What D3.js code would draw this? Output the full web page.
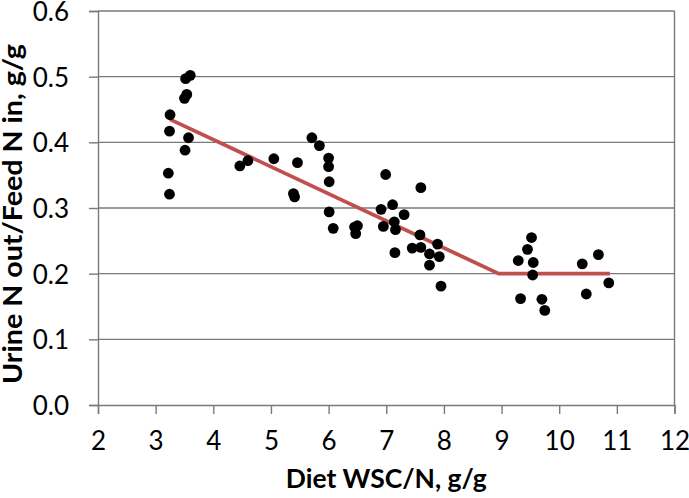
<!DOCTYPE html>
<html>
<head>
<meta charset="utf-8">
<script src="https://cdn.jsdelivr.net/npm/d3@7"></script>
<style>
  html, body { margin: 0; padding: 0; background: #fff; }
  svg { display: block; }
  text { font-family: Lato, "Open Sans", sans-serif; fill: #000; }
</style>
</head>
<body>
<svg id="chart" width="689" height="498"></svg>
<script>
// ---- data ----
const pointX = [3.52, 3.60, 3.50, 3.54, 3.25, 3.24, 3.57, 3.51, 4.46, 4.60, 3.22, 3.24,
  5.05, 5.46, 5.71, 5.84, 6.00, 6.00, 6.01, 5.39, 5.41, 6.01, 6.08, 6.45, 6.50, 6.47,
  6.99, 6.91, 7.11, 6.95, 7.14, 7.16, 7.31, 7.15, 7.60, 7.585, 7.45, 7.60, 7.89, 7.75,
  7.92, 7.75, 7.95,
  9.52, 9.45, 9.29, 9.55, 9.54, 9.33, 9.70, 9.75, 10.40, 10.68, 10.47, 10.86];
const pointY = [0.497, 0.502, 0.467, 0.473, 0.442, 0.417, 0.407, 0.388, 0.364, 0.372, 0.353, 0.321,
  0.375, 0.369, 0.407, 0.395, 0.376, 0.363, 0.340, 0.322, 0.317, 0.294, 0.269, 0.271, 0.273, 0.261,
  0.351, 0.298, 0.305, 0.272, 0.279, 0.267, 0.290, 0.232, 0.331, 0.259, 0.239, 0.240, 0.245, 0.230,
  0.226, 0.213, 0.181,
  0.255, 0.237, 0.220, 0.217, 0.198, 0.162, 0.161, 0.144, 0.215, 0.229, 0.169, 0.186];
const fitX = [3.25, 8.95, 10.88];
const fitY = [0.435, 0.200, 0.200];
const xTicks = [2, 3, 4, 5, 6, 7, 8, 9, 10, 11, 12];
const yTicks = [0, 0.1, 0.2, 0.3, 0.4, 0.5, 0.6];
const xTitle = "Diet WSC/N, g/g";
const yTitle = "Urine N out/Feed N in, g/g";

// ---- layout ----
const W = 689, H = 498;
const margin = { left: 98, right: 14.5, top: 11, bottom: 93 };
const svg = d3.select("#chart");
const x = d3.scaleLinear().domain([2, 12]).range([margin.left, W - margin.right]);
const y = d3.scaleLinear().domain([0, 0.6]).range([H - margin.bottom, margin.top]);
const axisColor = "#7a7a7a";

// gridlines
svg.append("g").selectAll("line").data(yTicks.filter(d => d > 0)).join("line")
  .attr("x1", x(2)).attr("x2", x(12))
  .attr("y1", d => y(d)).attr("y2", d => y(d))
  .attr("stroke", axisColor).attr("stroke-width", 1.4);
// right border
svg.append("line").attr("x1", x(12)).attr("x2", x(12)).attr("y1", y(0.6)).attr("y2", y(0))
  .attr("stroke", axisColor).attr("stroke-width", 1.4);

// axes
const xAxis = d3.axisBottom(x).tickValues(xTicks).tickSize(9).tickPadding(8).tickFormat(d3.format("d"));
const gx = svg.append("g").attr("transform", `translate(0,${y(0)})`).call(xAxis);
gx.select(".domain").attr("stroke", axisColor).attr("stroke-width", 1.4);
gx.selectAll(".tick line").attr("stroke", axisColor).attr("stroke-width", 1.4);
gx.selectAll(".tick text").attr("font-size", 26).attr("font-family", "Lato").attr("fill", "#000")
  .attr("dy", null).attr("y", 45);

const yAxis = d3.axisLeft(y).tickValues(yTicks).tickSize(9).tickPadding(20).tickFormat(d3.format(".1f"));
const gy = svg.append("g").attr("transform", `translate(${x(2)},0)`).call(yAxis);
gy.select(".domain").attr("stroke", axisColor).attr("stroke-width", 1.4);
gy.selectAll(".tick line").attr("stroke", axisColor).attr("stroke-width", 1.4);
gy.selectAll(".tick text").attr("font-size", 26).attr("font-family", "Lato").attr("fill", "#000")
  .attr("x", -29).attr("dy", "0.36em");

// fitted broken-line
const line = d3.line().x(d => x(d[0])).y(d => y(d[1]));
svg.append("path").datum(fitX.map((v, i) => [v, fitY[i]]))
  .attr("d", line).attr("fill", "none").attr("stroke", "#c0504d").attr("stroke-width", 3.8);

// points
svg.append("g").selectAll("circle").data(pointX.map((v, i) => [v, pointY[i]])).join("circle")
  .attr("cx", d => x(d[0])).attr("cy", d => y(d[1])).attr("r", 5.4).attr("fill", "#000");

// titles
svg.append("text").attr("x", (x(2) + x(12)) / 2).attr("y", 488)
  .attr("text-anchor", "middle").attr("font-weight", "bold").attr("font-size", 27)
  .attr("textLength", 201).attr("lengthAdjust", "spacingAndGlyphs").text(xTitle);
svg.append("text").attr("transform", `translate(22,214) rotate(-90)`)
  .attr("text-anchor", "middle").attr("font-weight", "bold").attr("font-size", 27)
  .attr("textLength", 340).attr("lengthAdjust", "spacingAndGlyphs").text(yTitle);
</script>
</body>
</html>
